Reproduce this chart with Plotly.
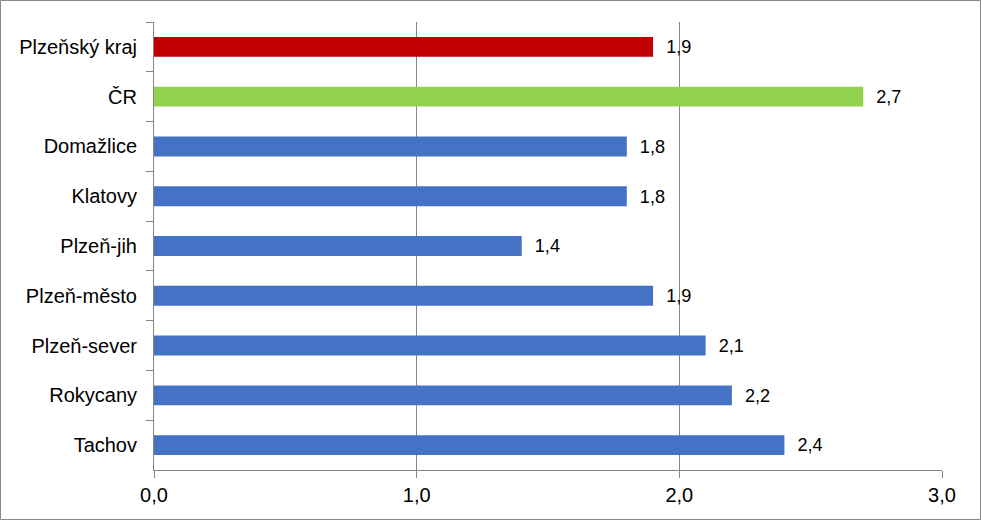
import plotly.graph_objects as go

categories = ["Plzeňský kraj", "ČR", "Domažlice", "Klatovy", "Plzeň-jih",
              "Plzeň-město", "Plzeň-sever", "Rokycany", "Tachov"]
values = [1.9, 2.7, 1.8, 1.8, 1.4, 1.9, 2.1, 2.2, 2.4]
colors = ["#C00000", "#92D050"] + ["#4472C4"] * 7
x_ticks = [0, 1, 2, 3]

W, H = 981, 520
L, R, T, B = 154, 942, 22, 470
FONT = "Liberation Sans, Arial, sans-serif"
FS = 20

fig = go.Figure(go.Bar(
    y=categories, x=values, orientation="h",
    marker=dict(color=colors, line=dict(width=0)),
    width=0.4,
    text=values, texttemplate="\u00a0\u00a0%{x:.1f}", textposition="outside",
    textfont=dict(family=FONT, size=FS, color="black"),
    cliponaxis=False,
))

pw, ph = R - L, B - T
def px(x):
    return (x - L) / pw
def py(y):
    return (B - y) / ph

fig.add_shape(type="rect", xref="paper", yref="paper",
              x0=px(0.5), x1=px(W - 0.5), y0=py(H - 0.5), y1=py(0.5),
              line=dict(color="#868686", width=1), layer="above")

fig.update_layout(
    width=W, height=H,
    margin=dict(l=L, r=W - R, t=T, b=H - B),
    paper_bgcolor="white", plot_bgcolor="white",
    separators=", ",
    showlegend=False,
    font=dict(family=FONT, size=FS, color="black"),
    xaxis=dict(range=[0, 3], tickvals=x_ticks, tickformat=".1f",
               showgrid=True, gridcolor="#868686", gridwidth=1,
               showline=True, linecolor="#868686", linewidth=1,
               ticks="outside", ticklen=7, tickcolor="#868686",
               zeroline=False, fixedrange=True),
    yaxis=dict(autorange="reversed", type="category",
               showgrid=False, showline=True, linecolor="#868686", linewidth=1,
               ticks="outside", ticklen=7, tickcolor="#868686",
               tickson="boundaries", ticklabelstandoff=12,
               zeroline=False, fixedrange=True),
)

fig.write_html("out.html", config={"displayModeBar": False})

with open("out.html", encoding="utf-8") as f:
    html = f.read()
html = html.replace("<head>", "<head><style>html,body{margin:0;padding:0;overflow:hidden;}</style>", 1)
with open("out.html", "w", encoding="utf-8") as f:
    f.write(html)
